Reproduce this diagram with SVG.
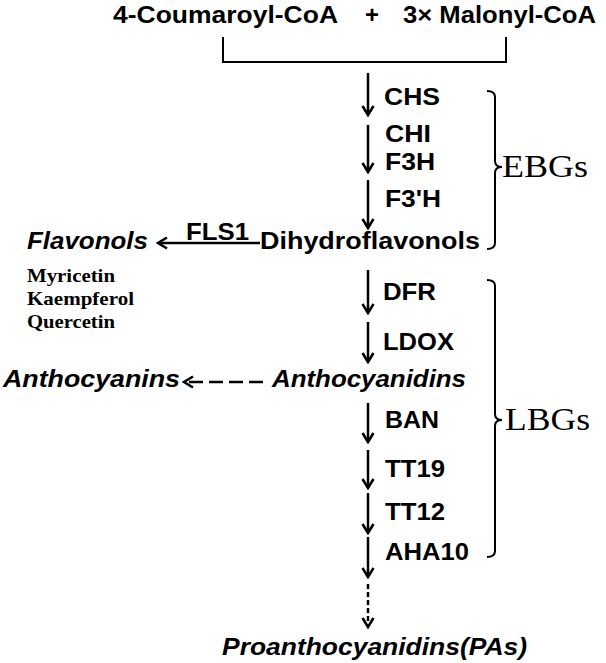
<svg xmlns="http://www.w3.org/2000/svg" width="606" height="663" viewBox="0 0 606 663">
<defs>
<style>
.s{font-family:"Liberation Sans",Arial,sans-serif;font-weight:bold;font-size:24px;fill:#000}
.i{font-style:italic}
.tb{font-family:"Liberation Serif","Times New Roman",serif;font-weight:bold;font-size:19px;fill:#000}
.tr{font-family:"Liberation Serif","Times New Roman",serif;font-size:32px;fill:#000}
.ln{stroke:#000;stroke-width:2.5;fill:none}
.dash{stroke-dasharray:5 3}
.hdash{stroke-dasharray:14 6}
.br{stroke:#000;stroke-width:2;fill:none}
</style>
<marker id="ah" viewBox="0 0 14 14" refX="12" refY="7" markerWidth="14" markerHeight="14" markerUnits="userSpaceOnUse" orient="auto">
<path d="M3,1.5 L12,7 L3,12.5" fill="none" stroke="#000" stroke-width="2.6" stroke-linejoin="miter"/>
</marker>
</defs>
<rect width="606" height="663" fill="#fff"/>
<g id="substrates">
<text class="s" x="113" y="23" textLength="225" lengthAdjust="spacingAndGlyphs">4-Coumaroyl-CoA</text>
<text class="s" x="365" y="23">+</text>
<text class="s" x="403" y="23" textLength="193" lengthAdjust="spacingAndGlyphs">3× Malonyl-CoA</text>
</g>
<g id="connectors">
<path class="br" d="M223,37 V62 H506 V37"/>
<line class="ln" x1="368" y1="73" x2="368" y2="115" marker-end="url(#ah)"/>
<line class="ln" x1="368" y1="125" x2="368" y2="172" marker-end="url(#ah)"/>
<line class="ln" x1="368" y1="180" x2="368" y2="228" marker-end="url(#ah)"/>
<line class="ln" x1="368" y1="270" x2="368" y2="313" marker-end="url(#ah)"/>
<line class="ln" x1="368" y1="322" x2="368" y2="362" marker-end="url(#ah)"/>
<line class="ln" x1="368" y1="403" x2="368" y2="442" marker-end="url(#ah)"/>
<line class="ln" x1="368" y1="450" x2="368" y2="488" marker-end="url(#ah)"/>
<line class="ln" x1="368" y1="493" x2="368" y2="533" marker-end="url(#ah)"/>
<line class="ln" x1="368" y1="537" x2="368" y2="577" marker-end="url(#ah)"/>
<line class="ln dash" x1="368" y1="584" x2="368" y2="627" marker-end="url(#ah)"/>
<line class="ln" x1="260" y1="243" x2="158" y2="243" marker-end="url(#ah)"/>
<line class="ln hdash" x1="263" y1="382" x2="184" y2="382" marker-end="url(#ah)"/>
</g>
<g id="enzymes-ebg">
<text class="s" x="384" y="105" textLength="56" lengthAdjust="spacingAndGlyphs">CHS</text>
<text class="s" x="385" y="142" textLength="46" lengthAdjust="spacingAndGlyphs">CHI</text>
<text class="s" x="385" y="170" textLength="50" lengthAdjust="spacingAndGlyphs">F3H</text>
<text class="s" x="385" y="207" textLength="56" lengthAdjust="spacingAndGlyphs">F3'H</text>
</g>
<g id="dihydroflavonols">
<text class="s" x="260" y="249" textLength="220" lengthAdjust="spacingAndGlyphs">Dihydroflavonols</text>
</g>
<g id="fls1">
<text class="s" x="186" y="240" textLength="63" lengthAdjust="spacingAndGlyphs">FLS1</text>
</g>
<g id="flavonols">
<text class="s i" x="27" y="249" textLength="121" lengthAdjust="spacingAndGlyphs">Flavonols</text>
<text class="tb" x="27" y="282" textLength="88" lengthAdjust="spacingAndGlyphs">Myricetin</text>
<text class="tb" x="27" y="305" textLength="107" lengthAdjust="spacingAndGlyphs">Kaempferol</text>
<text class="tb" x="27" y="328" textLength="88" lengthAdjust="spacingAndGlyphs">Quercetin</text>
</g>
<g id="ebgs">
<path class="br" d="M487,91 Q495,91 495,97 V161 Q495,167 502,167 Q495,167 495,173 V243 Q495,249 487,249"/>
<text class="tr" x="502" y="177" textLength="86" lengthAdjust="spacingAndGlyphs">EBGs</text>
</g>
<g id="enzymes-lbg">
<text class="s" x="383" y="300" textLength="53" lengthAdjust="spacingAndGlyphs">DFR</text>
<text class="s" x="383" y="350" textLength="71" lengthAdjust="spacingAndGlyphs">LDOX</text>
<text class="s" x="385" y="428" textLength="54" lengthAdjust="spacingAndGlyphs">BAN</text>
<text class="s" x="385" y="477" textLength="60" lengthAdjust="spacingAndGlyphs">TT19</text>
<text class="s" x="385" y="520" textLength="60" lengthAdjust="spacingAndGlyphs">TT12</text>
<text class="s" x="385" y="560" textLength="84" lengthAdjust="spacingAndGlyphs">AHA10</text>
</g>
<g id="anthocyanidins">
<text class="s i" x="272" y="387" textLength="194" lengthAdjust="spacingAndGlyphs">Anthocyanidins</text>
</g>
<g id="anthocyanins">
<text class="s i" x="3" y="387" textLength="177" lengthAdjust="spacingAndGlyphs">Anthocyanins</text>
</g>
<g id="lbgs">
<path class="br" d="M487,280 Q495,280 495,286 V414 Q495,420 502,420 Q495,420 495,426 V551 Q495,557 487,557"/>
<text class="tr" x="505" y="430" textLength="85" lengthAdjust="spacingAndGlyphs">LBGs</text>
</g>
<g id="proanthocyanidins">
<text class="s i" x="222" y="655" textLength="305" lengthAdjust="spacingAndGlyphs">Proanthocyanidins(PAs)</text>
</g>
</svg>
